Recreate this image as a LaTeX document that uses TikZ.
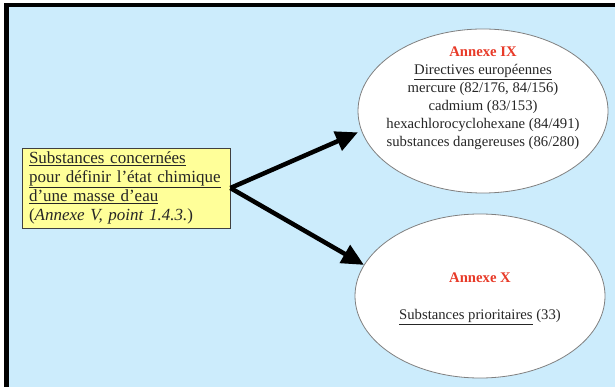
\documentclass[tikz,border=0pt]{standalone}
\usepackage{fontspec}
\setmainfont{Liberation Serif}
\usepackage{tikz}
\usetikzlibrary{positioning, arrows.meta}
\usetikzlibrary{shapes.geometric}
\definecolor{bgblue}{RGB}{204,236,252}
\definecolor{boxyellow}{RGB}{255,255,153}
\definecolor{annexred}{RGB}{232,58,40}

\begin{document}
\begin{tikzpicture}[x=1pt, y=-1pt,
    srcbox/.style={draw=black!75, fill=boxyellow, line width=0.8pt, align=left,
      text width=194pt, minimum height=80pt, inner xsep=7pt,
      font=\fontsize{17}{19}\selectfont, text=black!85},
    annexe/.style={ellipse, draw=black!50, fill=white, line width=0.8pt,
      minimum width=250pt, minimum height=164pt, inner sep=0pt},
    annexetext/.style={align=center, font=\fontsize{14.7}{18}\selectfont, text=black!85},
    bigarrow/.style={-{Triangle[length=22pt, width=20pt]}, line width=4.5pt}]
    \useasboundingbox (0,0) rectangle (615,387);

    % draw the frame and the background
    \fill[white] (0,0) rectangle (615,387);
    \fill[black] (4,3) rectangle (615,387);
    \fill[bgblue] (9,7) rectangle (615,387);

    % draw the box on the left
    \node[srcbox] (subst) at (126,188) {\underline{Substances concernées}\\
      \underline{pour définir l’état chimique}\\
      \underline{d’une masse d’eau}\\
      (\textit{Annexe V, point 1.4.3.})};

    % draw the two ellipses
    \node[annexe] (ann9) at (483,111) {};
    \node[annexe] (ann10) at (480,296) {};

    % draw the texts inside the ellipses
    \node[annexetext] (ann9txt) at (483,98) {\textcolor{annexred}{\textbf{Annexe IX}}\\
      \underline{Directives européennes}\\
      mercure (82/176, 84/156)\\
      cadmium (83/153)\\
      hexachlorocyclohexane (84/491)\\
      substances dangereuses (86/280)};
    \node[annexetext] (ann10txt) at (480,298.5) {\textcolor{annexred}{\textbf{Annexe X}}\\[19pt]
      \underline{Substances prioritaires} (33)};

    % draw the arrows
    \draw[bigarrow] (subst.east) -- ([xshift=-4pt]ann9.190);
    \draw[bigarrow] (subst.east) -- (ann10.165);

  \end{tikzpicture}
\end{document}
